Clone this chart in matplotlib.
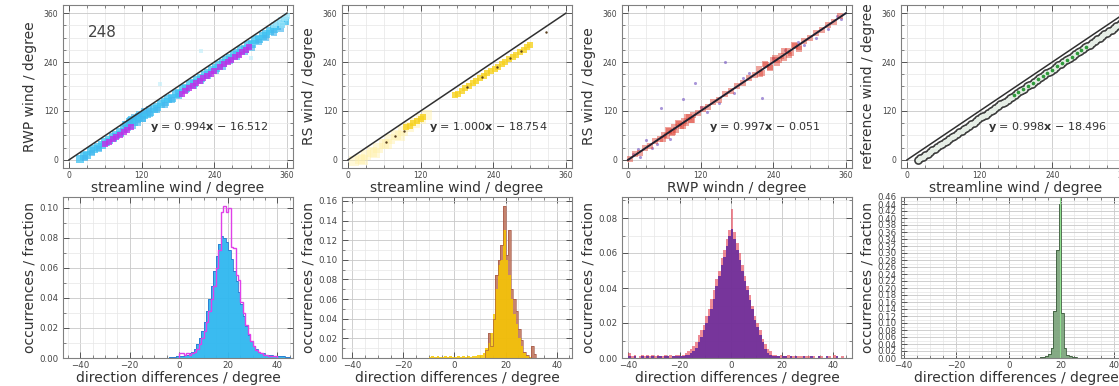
# wind direction comparison: scatter (top) and difference histograms (bottom)
import numpy as np
import matplotlib.pyplot as plt
from matplotlib.ticker import MultipleLocator

# ---------------- top row: scatter data ----------------
LINE_XY = [0, 360]

# panel 1: RWP vs streamline
p1_cyan_x = [18, 24, 30, 36, 42, 48, 54, 60, 66, 72, 78, 84, 90, 96, 100, 104, 108, 112, 116, 120,
             124, 128, 134, 140, 146, 152, 158, 164, 170, 176, 182, 188, 194, 200, 206, 212, 218, 224,
             230, 236, 242, 248, 254, 260, 266, 272, 278, 284, 290, 296, 302, 308, 314, 320, 326, 332,
             338, 344, 350, 356]
p1_cyan_y = [3, 9, 13, 21, 26, 32, 37, 45, 49, 57, 61, 69, 76, 85, 92, 97, 93, 101, 104, 103,
             109, 113, 117, 125, 129, 137, 141, 149, 153, 161, 165, 173, 177, 185, 189, 197, 201, 209,
             213, 221, 225, 233, 237, 245, 249, 257, 261, 269, 273, 281, 285, 293, 297, 305, 309, 317,
             321, 329, 333, 341]
p1_cyan2_x = [26, 38, 50, 62, 74, 86, 98, 106, 114, 122, 134, 146, 158, 170, 182, 194, 206, 218,
              230, 242, 254, 266, 278, 290, 302, 314, 326, 338, 350, 92, 100, 108, 116, 124, 132]
p1_cyan2_y = [4, 17, 27, 41, 51, 64, 77, 84, 91, 100, 113, 123, 135, 146, 157, 171, 181, 194,
              205, 218, 229, 242, 252, 265, 275, 288, 299, 312, 322, 88, 97, 106, 113, 120, 126]
p1_mag_x = [60, 66, 72, 78, 84, 90, 96, 102, 186, 192, 198, 204, 210, 216, 222, 228, 234, 240,
            250, 256, 262, 268, 274, 280, 286, 292, 298]
p1_mag_y = [38, 44, 50, 56, 61, 68, 74, 80, 162, 168, 176, 181, 188, 193, 200, 206, 211, 218,
            228, 234, 240, 246, 252, 258, 264, 270, 276]
p1_light_x = [338, 344, 350, 356, 360, 352]
p1_light_y = [330, 336, 342, 348, 352, 332]
p1_stray_x = [218, 300, 150]
p1_stray_y = [268, 250, 186]

# panel 2: RS vs streamline
p2_faint_x = [10, 20, 30, 40, 50, 60, 70, 80, 90, 100, 110, 120, 130, 25, 45, 65, 85]
p2_faint_y = [-4, 2, 12, 20, 30, 40, 50, 60, 70, 80, 90, 100, 110, 0, 18, 38, 58]
p2_yel_x = [96, 102, 108, 114, 120, 124, 176, 182, 188, 194, 200, 206, 212, 218, 224, 230, 236,
            242, 248, 254, 260, 266, 272, 278, 284, 290, 296, 300]
p2_yel_y = [80, 84, 90, 95, 100, 104, 158, 162, 170, 176, 181, 188, 193, 200, 205, 212, 218,
            224, 228, 236, 241, 248, 252, 258, 265, 270, 276, 282]
p2_dark_x = [62, 78, 92, 196, 222, 246, 268, 286, 327]
p2_dark_y = [44, 58, 72, 178, 204, 228, 250, 268, 314]

# panel 3: RS vs RWP
p3_red_x = [4, 12, 20, 28, 36, 44, 52, 60, 64, 68, 72, 76, 80, 84, 88, 92, 96, 100, 104, 108,
            116, 124, 132, 140, 150, 160, 170, 180, 190, 200, 210, 216, 222, 228, 234, 240, 246,
            252, 258, 264, 270, 276, 282, 290, 300, 310, 320, 330, 340, 350,
            58, 66, 74, 82, 90, 98, 106, 218, 226, 234, 242, 250, 258, 266, 274, 282]
p3_red_y = [2, 14, 16, 30, 34, 46, 50, 62, 58, 72, 66, 80, 74, 88, 84, 96, 90, 104, 98, 110,
            114, 126, 130, 142, 148, 162, 168, 182, 188, 202, 208, 222, 214, 232, 226, 244, 238,
            256, 250, 268, 262, 280, 276, 292, 298, 312, 318, 332, 338, 352,
            50, 74, 68, 90, 82, 106, 98, 210, 236, 228, 250, 244, 266, 258, 282, 272]
p3_purp_x = [8, 20, 30, 40, 55, 70, 90, 110, 130, 150, 160, 175, 200, 221, 240, 260, 290, 310,
             330, 345, 352, 16, 48, 120, 190, 280]
p3_purp_y = [14, 6, 48, 30, 127, 50, 150, 189, 118, 140, 240, 165, 214, 152, 250, 270, 282, 300,
             322, 352, 346, 26, 40, 130, 200, 290]

# panel 4: reference vs streamline
p4_ref_x = [18, 22, 26, 30, 34, 38, 42, 46, 50, 54, 58, 62, 66, 70, 74, 78, 82, 86, 90, 94,
            98, 102, 106, 110, 114, 118, 122, 126, 130, 134, 138, 142, 146, 150, 154, 158, 162,
            166, 170, 174, 178, 182, 186, 190, 194, 198, 202, 206, 210, 214, 218, 222, 226, 230,
            234, 238, 242, 246, 250, 254, 258, 262, 266, 270, 274, 278, 282, 286, 290, 294, 298,
            302, 306, 310, 314, 318, 322, 326, 330, 334, 338, 342, 346, 350, 354, 358, 362]
p4_ref_y = [0, 4, 7, 12, 15, 20, 24, 27, 31, 36, 40, 43, 47, 52, 56, 59, 63, 68, 72, 75,
            79, 84, 88, 91, 95, 100, 104, 107, 111, 116, 120, 123, 127, 132, 136, 139, 143,
            148, 152, 155, 159, 164, 168, 171, 175, 180, 184, 187, 191, 196, 200, 203, 207, 212,
            216, 219, 223, 228, 232, 235, 239, 244, 248, 251, 255, 260, 264, 267, 271, 276, 280,
            283, 287, 292, 296, 299, 303, 308, 312, 315, 319, 324, 328, 331, 335, 340, 344]
p4_green_x = [176, 184, 192, 200, 208, 216, 224, 232, 240, 248, 256, 264, 272, 280, 288, 296]
p4_green_y = [158, 166, 173, 182, 189, 198, 205, 214, 221, 230, 237, 246, 253, 262, 269, 278]

fit_labels = ["0.994", "1.000", "0.997", "0.998"]
fit_offsets = ["16.512", "18.754", "0.051", "18.496"]
top_xlabels = ["streamline wind / degree", "streamline wind / degree",
               "RWP windn / degree", "streamline wind / degree"]
top_ylabels = ["RWP wind / degree", "RS wind / degree", "RS wind / degree",
               "reference wind / degree"]

# ---------------- bottom row: histogram data (1 degree bins, left edges) ----------------
h1_bins = list(range(-4, 45))
h1_cyan = [0.0005, 0.0005, 0.0008, 0.001, 0.001, 0.0015, 0.002, 0.002, 0.003, 0.004, 0.006,
           0.009, 0.013, 0.018, 0.024, 0.031, 0.039, 0.048, 0.058, 0.068, 0.076, 0.081, 0.080,
           0.077, 0.072, 0.066, 0.058, 0.051, 0.044, 0.036, 0.028, 0.021, 0.015, 0.011, 0.008,
           0.006, 0.004, 0.003, 0.003, 0.002, 0.002, 0.002, 0.001, 0.001, 0.001, 0.001, 0.001,
           0.0005, 0.0005]
h1_mag_bins = list(range(0, 40))
h1_mag = [0.003, 0.003, 0.002, 0.003, 0.002, 0.003, 0.004, 0.006, 0.009, 0.013, 0.018, 0.024,
          0.031, 0.039, 0.048, 0.060, 0.072, 0.097, 0.101, 0.097, 0.100, 0.074, 0.073, 0.055,
          0.052, 0.037, 0.030, 0.022, 0.016, 0.011, 0.008, 0.005, 0.004, 0.003, 0.002, 0.002,
          0.001, 0.001, 0.001, 0.001]

h2_bins = list(range(-10, 31))
h2_yel = [0.001, 0.002, 0.001, 0.002, 0.001, 0.001, 0.002, 0.001, 0.002, 0.001, 0.001, 0.002,
          0.001, 0.002, 0.001, 0.002, 0.001, 0.002, 0.002, 0.003, 0.003, 0.005, 0.010, 0.015,
          0.025, 0.045, 0.070, 0.095, 0.100, 0.130, 0.100, 0.085, 0.060, 0.045, 0.035, 0.020,
          0.012, 0.005, 0.002, 0.001, 0.0]
h2_brown_bins = list(range(12, 32))
h2_brown = [0.008, 0.025, 0.012, 0.040, 0.085, 0.100, 0.115, 0.155, 0.105, 0.130, 0.070, 0.060,
            0.048, 0.030, 0.018, 0.006, 0.003, 0.0, 0.012, 0.004]

h3_bins = list(range(-40, 44))
h3_purple = [0.001, 0.0, 0.001, 0.0, 0.0, 0.001, 0.0, 0.001, 0.0, 0.001, 0.0, 0.001, 0.001, 0.0,
             0.001, 0.001, 0.0, 0.001, 0.001, 0.001, 0.001, 0.001, 0.0015, 0.002, 0.003, 0.004,
             0.006, 0.009, 0.012, 0.016, 0.020, 0.024, 0.028, 0.034, 0.041, 0.047, 0.053, 0.058,
             0.064, 0.070, 0.074, 0.068, 0.062, 0.056, 0.050, 0.044, 0.039, 0.033, 0.028, 0.022,
             0.018, 0.013, 0.009, 0.005, 0.003, 0.002, 0.001, 0.001, 0.001, 0.0, 0.001, 0.001,
             0.0, 0.001, 0.0, 0.001, 0.0, 0.0, 0.001, 0.0, 0.0, 0.001, 0.0, 0.0, 0.001, 0.0, 0.0,
             0.001, 0.0, 0.0, 0.0, 0.001, 0.0, 0.0]
h3_red = [0.003, 0.001, 0.002, 0.0, 0.001, 0.002, 0.001, 0.002, 0.001, 0.002, 0.001, 0.002,
          0.001, 0.001, 0.002, 0.001, 0.002, 0.001, 0.002, 0.002, 0.001, 0.002, 0.003, 0.004,
          0.005, 0.007, 0.009, 0.013, 0.016, 0.019, 0.024, 0.028, 0.034, 0.039, 0.045, 0.050,
          0.057, 0.062, 0.068, 0.073, 0.085, 0.072, 0.066, 0.060, 0.053, 0.047, 0.041, 0.036,
          0.030, 0.024, 0.020, 0.016, 0.011, 0.008, 0.005, 0.004, 0.002, 0.002, 0.001, 0.002,
          0.001, 0.001, 0.002, 0.001, 0.001, 0.0, 0.001, 0.001, 0.0, 0.001, 0.001, 0.0, 0.001,
          0.0, 0.001, 0.001, 0.0, 0.0, 0.001, 0.0, 0.002, 0.0, 0.0, 0.001]

h4_bins = list(range(11, 27))
h4_green = [0.001, 0.002, 0.004, 0.006, 0.012, 0.030, 0.135, 0.310, 0.440, 0.130, 0.030, 0.010,
            0.005, 0.003, 0.002, 0.001]
h4_mean = 19.4

hist_ylims = [0.107, 0.164, 0.092, 0.46]
hist_xlims = [(-47, 46.3), (-44, 46), (-42.5, 47.3), (-41, 46.6)]

# ---------------- figure ----------------
W, H = 1119, 386
fig = plt.figure(figsize=(W / 100, H / 100), dpi=100)

lefts = [63, 342, 622, 901]
ax_w = 230
top_axes = [fig.add_axes([l / W, (H - 168) / H, ax_w / W, 163 / H]) for l in lefts]
bot_axes = [fig.add_axes([l / W, (H - 358) / H, ax_w / W, 161 / H]) for l in lefts]


def style(ax, labelsize):
    ax.set_axisbelow(True)
    ax.grid(which="major", color="#c8c8c8", lw=0.6)
    ax.grid(which="minor", color="#e6e6e6", lw=0.5)
    ax.tick_params(which="both", direction="in", top=True, right=True, colors="#555555",
                   labelsize=labelsize, labelcolor="#444444")
    ax.tick_params(which="major", length=4, width=0.7)
    ax.tick_params(which="minor", length=2, width=0.5)
    ax.tick_params(axis="x", pad=2)
    for s in ax.spines.values():
        s.set_color("#808080")
        s.set_linewidth(0.8)


# top row
for i, ax in enumerate(top_axes):
    if i == 0:
        ax.scatter(p1_cyan_x, p1_cyan_y, s=26, marker="s", color="#3cc2f2", alpha=0.75, lw=0)
        ax.scatter(p1_cyan2_x, p1_cyan2_y, s=24, marker="s", color="#45b6ee", alpha=0.65, lw=0)
        ax.scatter(p1_mag_x, p1_mag_y, s=22, marker="s", color="#c030e8", alpha=0.8, lw=0)
        ax.scatter(p1_light_x, p1_light_y, s=22, marker="s", color="#9fe6fa", alpha=0.7, lw=0)
        ax.scatter(p1_stray_x, p1_stray_y, s=6, marker="s", color="#bdeefa", alpha=0.6, lw=0)
        ax.text(0.17, 0.83, "248", transform=ax.transAxes, fontsize=11, color="#444444",
                ha="center", va="center")
    elif i == 1:
        ax.scatter(p2_faint_x, p2_faint_y, s=60, marker="s", color="#fff1a8", alpha=0.45, lw=0)
        ax.scatter(p2_yel_x, p2_yel_y, s=22, marker="s", color="#f7d21e", alpha=0.8, lw=0)
        ax.scatter(p2_dark_x, p2_dark_y, s=3, color="#5a4020", lw=0)
    elif i == 2:
        ax.scatter(p3_purp_x, p3_purp_y, s=5, color="#7050c0", alpha=0.6, lw=0)
        ax.scatter(p3_red_x, p3_red_y, s=16, marker="s", color="#e04a3c", alpha=0.5, lw=0)
    else:
        ax.scatter(p4_ref_x, p4_ref_y, s=40, color="#3a3a3a", lw=0)
        ax.scatter(p4_ref_x, p4_ref_y, s=16, color="#e6eee6", lw=0)
        ax.scatter(p4_green_x, p4_green_y, s=7, color="#2e9a3a", lw=0)
    lw = 1.4 if i == 2 else 1.1
    ax.plot(LINE_XY, LINE_XY, color="#202030" if i == 2 else "#303030", lw=lw)
    ax.set_xlim(-10, 370)
    ax.set_ylim(-20, 380)
    ax.xaxis.set_major_locator(MultipleLocator(120))
    ax.yaxis.set_major_locator(MultipleLocator(120))
    ax.xaxis.set_minor_locator(MultipleLocator(30))
    ax.yaxis.set_minor_locator(MultipleLocator(30))
    style(ax, 5.5)
    ax.set_xlabel(top_xlabels[i], fontsize=10, color="#333333", labelpad=1)
    ax.set_ylabel(top_ylabels[i], fontsize=10, color="#333333", labelpad=5)
    ax.text(0.38, 0.25, r"$\mathbf{y}$ = " + fit_labels[i] + r"$\mathbf{x}$ − " + fit_offsets[i],
            transform=ax.transAxes, fontsize=8, color="#333333", ha="left", va="center")


def edges(bins):
    return list(bins) + [bins[-1] + 1]


# bottom row
ax = bot_axes[0]
ax.stairs(h1_cyan, edges(h1_bins), fill=True, color="#2fb8f0", alpha=0.95)
ax.stairs(h1_cyan, edges(h1_bins), color="#2a78d0", lw=0.6)
ax.stairs(h1_mag, edges(h1_mag_bins), color="#e040e8", lw=1.0)

ax = bot_axes[1]
ax.stairs(h2_brown, edges(h2_brown_bins), fill=True, color="#b8664a", alpha=0.8)
ax.stairs(h2_yel, edges(h2_bins), fill=True, color="#f8c800", alpha=0.85)
ax.stairs(h2_brown, edges(h2_brown_bins), color="#a05040", lw=0.6, alpha=0.7)

ax = bot_axes[2]
ax.stairs(h3_red, edges(h3_bins), fill=True, color="#e85a6a", alpha=0.7)
ax.stairs(h3_purple, edges(h3_bins), fill=True, color="#6a2c9c", alpha=0.9)

ax = bot_axes[3]
ax.axvline(h4_mean, color="#90e090", lw=0.8)
ax.stairs(h4_green, edges(h4_bins), fill=True, color="#7ea67e", alpha=0.95)
ax.stairs(h4_green, edges(h4_bins), color="#3c5a3c", lw=0.6)

for i, ax in enumerate(bot_axes):
    ax.set_xlim(*hist_xlims[i])
    ax.set_ylim(0, hist_ylims[i])
    ax.xaxis.set_major_locator(MultipleLocator(20))
    ax.xaxis.set_minor_locator(MultipleLocator(5))
    ax.yaxis.set_major_locator(MultipleLocator(0.02))
    ax.yaxis.set_minor_locator(MultipleLocator(0.01))
    style(ax, 6.2)
    ax.set_xlabel("direction differences / degree", fontsize=10, color="#333333", labelpad=1)
    ax.set_ylabel("occurrences / fraction", fontsize=10, color="#333333", labelpad=2)

fig.savefig("out.png", dpi=100)
